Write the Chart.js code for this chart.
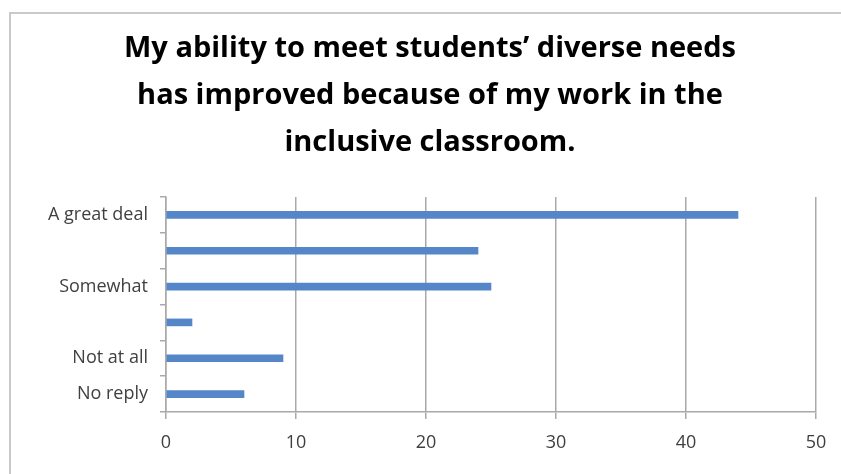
<!DOCTYPE html>
<html>
<head>
<meta charset="utf-8">
<script src="https://cdn.jsdelivr.net/npm/chart.js@4/dist/chart.umd.min.js"></script>
<style>
  html, body { margin: 0; padding: 0; background: #fff; overflow: hidden; }
  #frame { position: absolute; left: 9px; top: 12px; width: 900px; height: 500px; border: 2px solid #c9c9c9; }
  #wrap { position: absolute; left: 0; top: 0; width: 841px; height: 474px; }
</style>
</head>
<body>
<div id="frame"></div>
<div id="wrap"><canvas id="bar-chart" width="841" height="474"></canvas></div>
<script>
const categories = ["A great deal", "", "Somewhat", "", "Not at all", "No reply"];
const responses = [44, 24, 25, 2, 9, 6];
const titleLines = ["My ability to meet students\u2019 diverse needs", "has improved because of my work in the", "inclusive classroom."];

new Chart(document.getElementById("bar-chart"), {
    type: 'bar',
    data: {
        labels: categories,
        datasets: [
            {
                label: "Responses",
                backgroundColor: "#5587c8",
                data: responses,
                barThickness: 7,
            }
        ]
    },
    options: {
        indexAxis: 'y',
        responsive: false,
        animation: false,
        layout: { padding: { left: 44, right: 25, top: 0, bottom: 12 } },
        plugins: {
            legend: { display: false },
            tooltip: { enabled: false },
            title: {
                display: true,
                text: titleLines,
                color: '#000',
                font: { family: 'Open Sans', size: 29, weight: 'bold', lineHeight: 1.62 },
                padding: { top: 25, bottom: 31 },
            }
        },
        scales: {
            x: {
                min: 0,
                max: 50,
                ticks: { stepSize: 10, color: '#404040', padding: 13, font: { family: 'Open Sans', size: 18 } },
                grid: { color: '#a9a9a9', lineWidth: 1.5, drawTicks: true, tickLength: 7 },
                border: { color: '#a9a9a9', width: 1.5 },
                afterFit: (s) => { s.height = 50; }
            },
            y: {
                ticks: { color: '#404040', padding: 12, font: { family: 'Open Sans', size: 18 } },
                grid: { drawOnChartArea: false, color: '#a9a9a9', lineWidth: 1.5, tickLength: 6, offset: true },
                border: { color: '#a9a9a9', width: 1.5 },
                afterFit: (s) => { s.width = 122; }
            }
        }
    }
});
</script>
</body>
</html>
